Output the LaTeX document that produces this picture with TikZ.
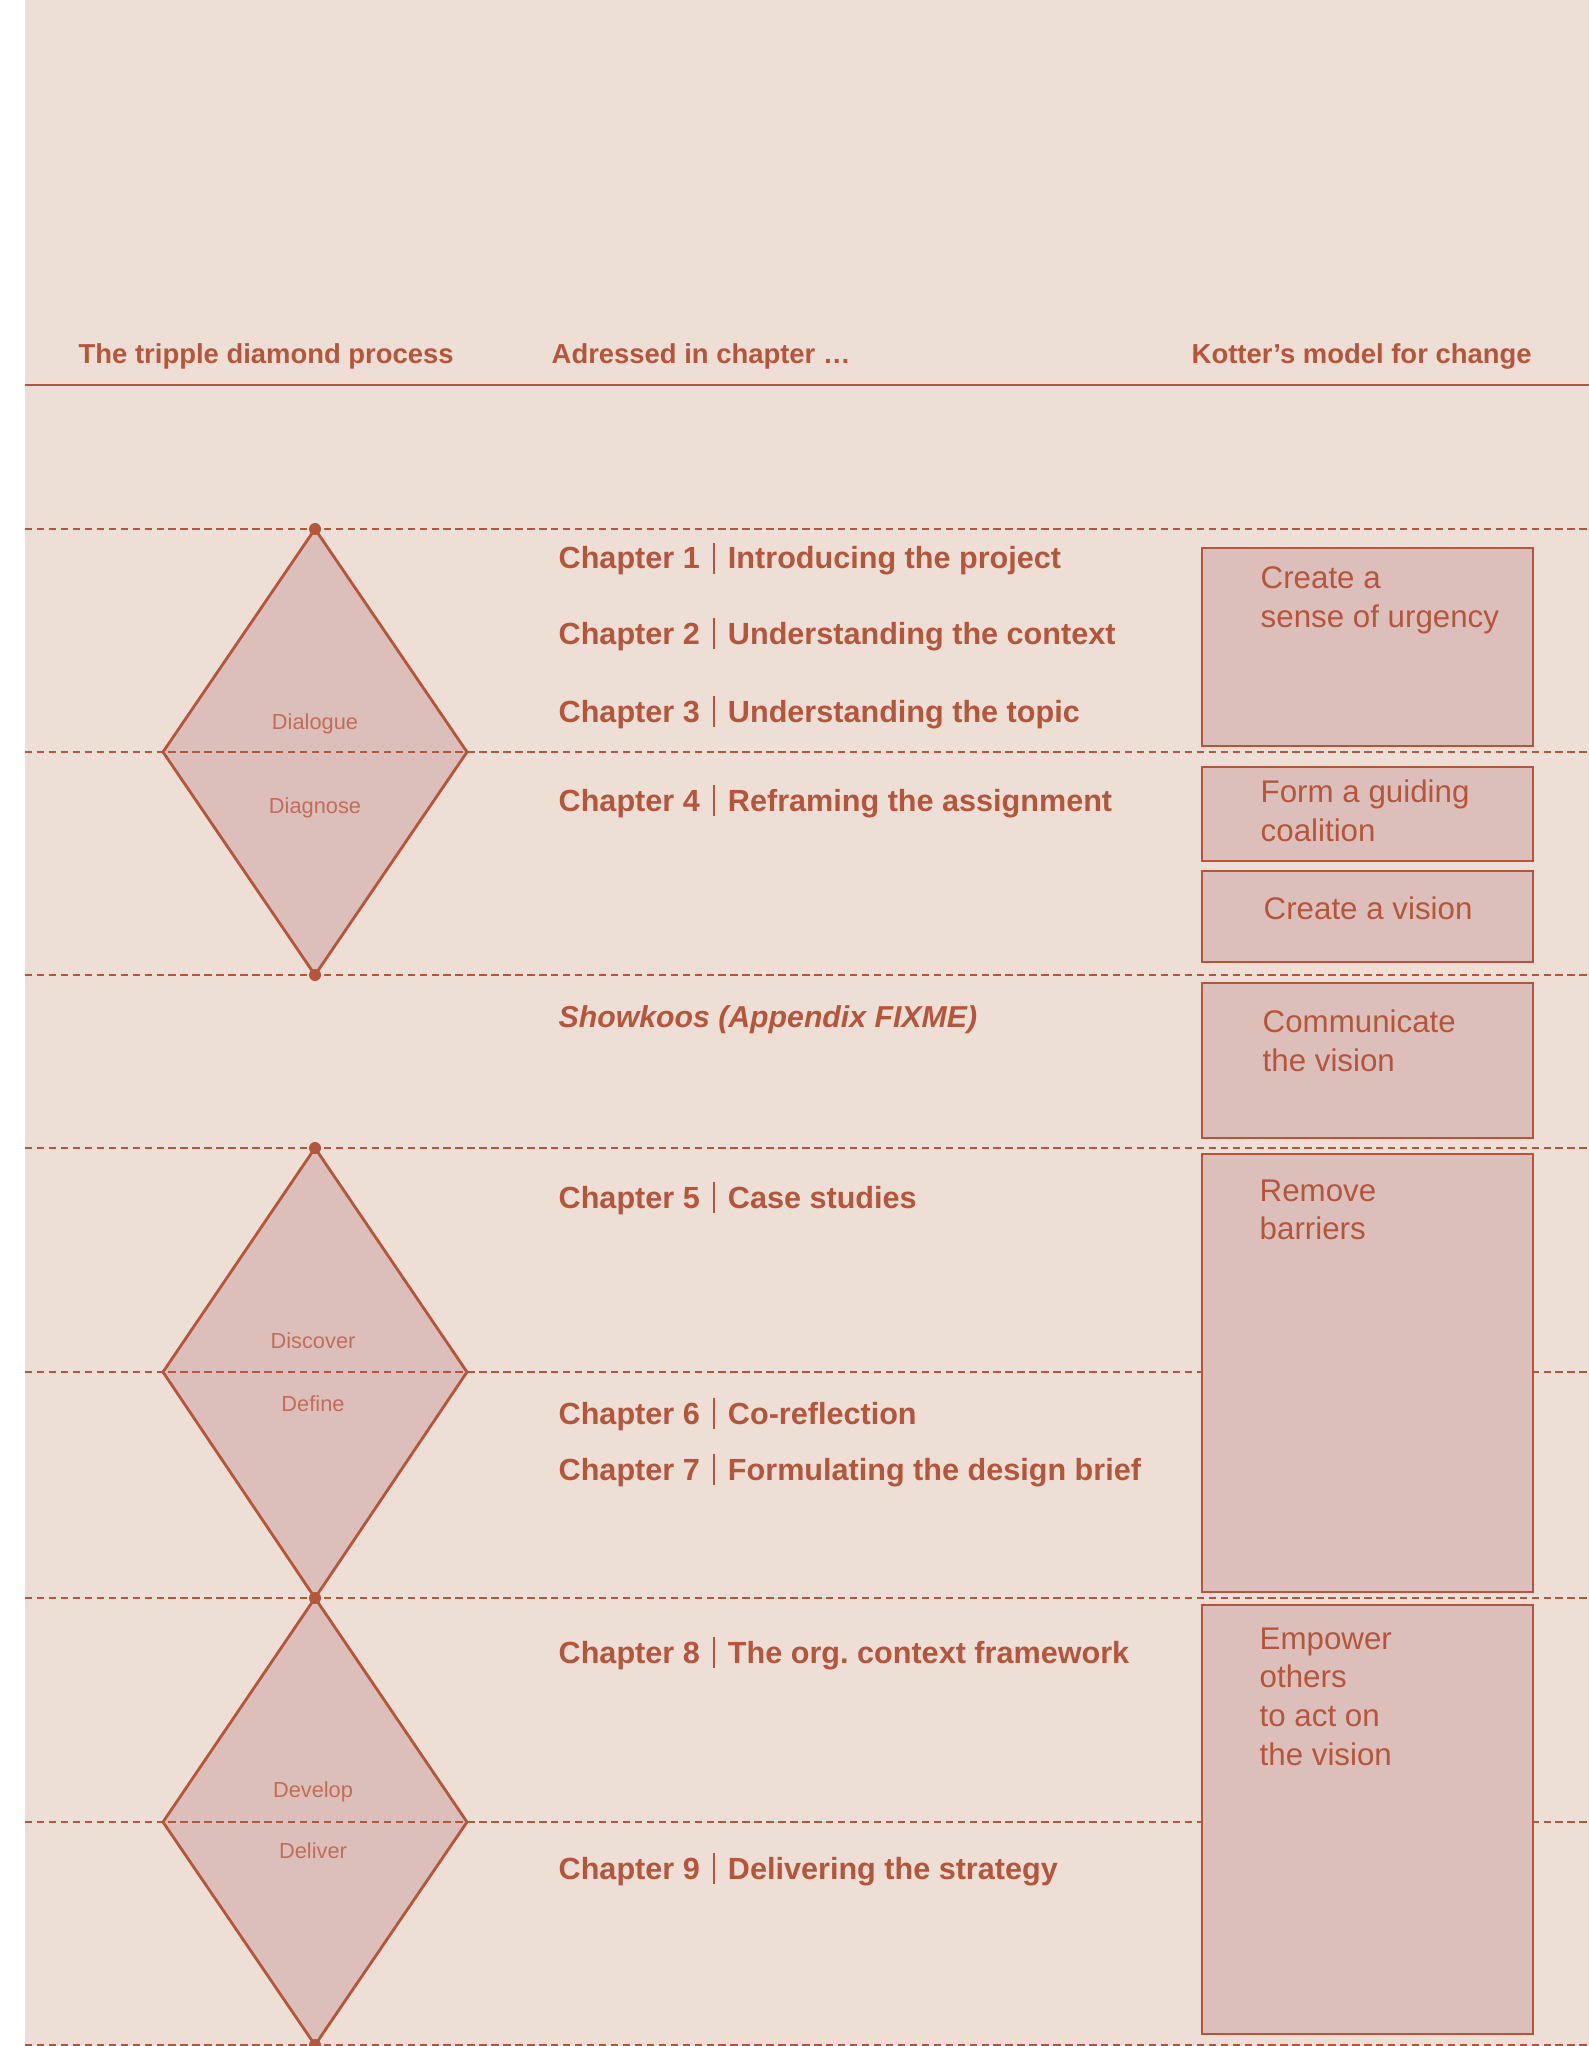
\documentclass[tikz,border=0pt]{standalone}
\usepackage{fontspec}
\setmainfont{Liberation Sans}
\definecolor{rust}{RGB}{181,86,60}
\definecolor{rustsoft}{RGB}{192,110,90}
\definecolor{rosefill}{RGB}{220,191,186}
\definecolor{sand}{RGB}{237,223,213}
\newcommand{\chbar}{\hspace{0.42em}\rule[-0.16em]{0.7pt}{1.02em}\hspace{0.42em}}
\tikzset{
head/.style={anchor=base west,inner sep=0pt,text=rust,font=\fontsize{7.8}{9.5}\selectfont\bfseries},
chap/.style={anchor=base west,inner sep=0pt,text=rust,font=\fontsize{8.7}{10.5}\selectfont\bfseries},
phase/.style={anchor=base,inner sep=0pt,text=rustsoft,font=\fontsize{6.2}{7.5}\selectfont},
kotter text/.style={anchor=north west,inner sep=0pt,align=left,text=rust,font=\fontsize{8.9}{11}\selectfont},
kbox/.style={draw=rust,fill=rosefill,line width=0.7pt},
dia/.style={draw=rust,fill=rosefill,line width=0.8pt,line join=miter},
sep line/.style={draw=rust,line width=0.6pt,dash pattern=on 2.1pt off 1.3pt},
knot/.style={fill=rust}}

\begin{document}
\begin{tikzpicture}[x=0.01cm,y=-0.01cm]

\useasboundingbox (0,0) rectangle (1589,2046);
\fill[white] (0,0) rectangle (1589,2046);
\fill[sand] (25,0) rectangle (1589,2046);

\coordinate (L) at (25,0);
\coordinate (R) at (1589,0);

\node[head] (h1) at (78,364) {The tripple diamond process};
\node[head] (h2) at (551,364) {Adressed in chapter \ldots};
\node[head] (h3) at (1191,364) {Kotter’s model for change};
\draw[rust,line width=0.8pt] (L |- 0,385) -- (R |- 0,385);

\coordinate (t1) at (315,529);
\coordinate (m1) at (315,752);
\coordinate (b1) at (315,975);
\coordinate (t2) at (315,1148);
\coordinate (m2) at (315,1372);
\coordinate (b2) at (315,1598);
\coordinate (m3) at (315,1822);
\coordinate (b3) at (315,2045);

\filldraw[dia] (t1) -- (467,752) -- (b1) -- (163,752) -- cycle;
\filldraw[dia] (t2) -- (467,1372) -- (b2) -- (163,1372) -- cycle;
\filldraw[dia] (b2) -- (467,1822) -- (b3) -- (163,1822) -- cycle;

\draw[sep line] (L |- t1) -- (R |- t1);
\draw[sep line] (L |- m1) -- (R |- m1);
\draw[sep line] (L |- b1) -- (R |- b1);
\draw[sep line] (L |- t2) -- (R |- t2);
\draw[sep line] (L |- m2) -- (R |- m2);
\draw[sep line] (L |- b2) -- (R |- b2);
\draw[sep line] (L |- m3) -- (R |- m3);
\draw[sep line] (L |- b3) -- (R |- b3);

\fill[knot] (t1) circle (6);
\fill[knot] (b1) circle (6);
\fill[knot] (t2) circle (6);
\fill[knot] (b2) circle (6);
\fill[knot] (b3) circle (6);

\node[phase] (p1) at (315,729) {Dialogue};
\node[phase] (p2) at (315,813) {Diagnose};
\node[phase] (p3) at (313,1348) {Discover};
\node[phase] (p4) at (313,1411) {Define};
\node[phase] (p5) at (313,1797) {Develop};
\node[phase] (p6) at (313,1858) {Deliver};

\node[chap] (c1) at (558,569) {Chapter 1\chbar Introducing the project};
\node[chap] (c2) at (558,644) {Chapter 2\chbar Understanding the context};
\node[chap] (c3) at (558,722) {Chapter 3\chbar Understanding the topic};
\node[chap] (c4) at (558,811) {Chapter 4\chbar Reframing the assignment};
\node[chap,font=\fontsize{8.6}{10.5}\selectfont\bfseries\itshape] (sk) at (558,1027) {Showkoos (Appendix FIXME)};
\node[chap] (c5) at (558,1208) {Chapter 5\chbar Case studies};
\node[chap] (c6) at (558,1424) {Chapter 6\chbar Co-reflection};
\node[chap] (c7) at (558,1480) {Chapter 7\chbar Formulating the design brief};
\node[chap] (c8) at (558,1663) {Chapter 8\chbar The org.\ context framework};
\node[chap] (c9) at (558,1879) {Chapter 9\chbar Delivering the strategy};

\filldraw[kbox] (1202,548) rectangle (1533,746);
\filldraw[kbox] (1202,767) rectangle (1533,861);
\filldraw[kbox] (1202,871) rectangle (1533,962);
\filldraw[kbox] (1202,983) rectangle (1533,1138);
\filldraw[kbox] (1202,1154) rectangle (1533,1592);
\filldraw[kbox] (1202,1605) rectangle (1533,2034);

\node[kotter text] (k1) at (1260,566) {Create a\\sense of urgency};
\node[kotter text] (k2) at (1260,779) {Form a guiding\\coalition};
\node[kotter text,anchor=base west] (k3) at (1263,919) {Create a vision};
\node[kotter text] (k4) at (1262,1009) {Communicate\\the vision};
\node[kotter text] (k5) at (1259,1179) {Remove\\barriers};
\node[kotter text] (k6) at (1259,1627) {Empower\\others\\to act on\\the vision};

\end{tikzpicture}
\end{document}
